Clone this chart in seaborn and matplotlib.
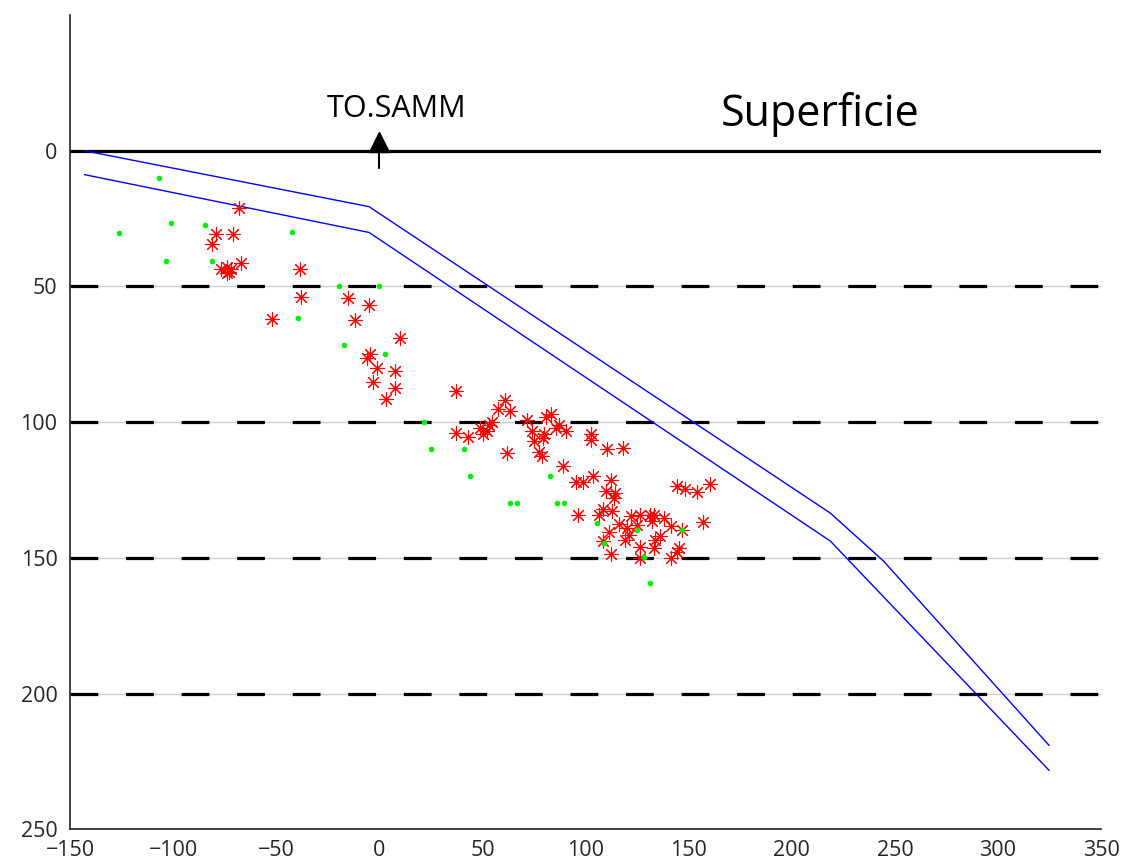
import matplotlib
matplotlib.use("Agg")
import matplotlib.pyplot as plt
import seaborn as sns
import pandas as pd

# ---- data ----
red_x = [-68, -79, -71, -81, -67, -77, -74, -73, -74, -72, -38.6, -38, -52, -15, -5, -12, 10,
         -4.5, -6, -1, 7.5, -3, 7.6, 3.4,
         37.3, 61, 57.7, 63.3, 54.8, 53.2, 49, 52, 50.4, 37.3, 43, 71.4, 74.2, 75, 79.5, 80,
         78.7, 77.5, 81, 83.4, 85.5, 87, 90.5, 62, 89, 102.4, 102.7, 110.3, 118.2, 95.6, 98.9,
         103.7, 112.4, 110, 114.5, 114, 144.4, 148, 153.8, 160.2, 96.4, 106.5, 108.4, 112.9,
         116.3, 121.8, 120.2, 121, 118.9, 111.3, 108.6, 126.6, 131.2, 133.1, 132.3, 137.9,
         141.2, 157, 145.2, 144.4, 141.2, 133.9, 136.3, 133.1, 126.3, 126.3, 112.1, 125, 147]
red_y = [21, 30.5, 30.6, 34.4, 41.3, 43.4, 42.8, 44.6, 45.2, 43.5, 43.5, 54, 62, 54.2, 56.9, 62.5, 68.9,
         75, 76.5, 80, 81, 85.3, 87.3, 91.5,
         88.5, 92, 95, 96, 99.8, 101.2, 102.2, 103.4, 104.4, 104, 105.5, 99.3, 103.4, 107, 106, 104.4,
         112.3, 111, 98, 97, 102, 101, 103.4, 111.4, 116, 104.4, 106.7, 109.7, 109.6, 122, 122,
         120, 121.2, 125.4, 126.1, 127.9, 123.6, 124.6, 125.9, 122.8, 134.2, 134.3, 132.1, 132.6,
         137.5, 134.7, 139, 141.4, 143.3, 140.4, 143.6, 134.3, 134.3, 134.1, 136.3, 135.3,
         138.4, 136.9, 146.3, 147.8, 150.2, 143.3, 142, 146.3, 146.1, 150.2, 148.5, 138, 139.7]

green_x = [-107, -101, -84.4, -126.3, -42.4, -103.6, -81.2, -39.4, -19.8, -0.4, -16.9, 2.6,
           21.7, 25, 41.2, 44.1, 82.9, 63.3, 66.7, 86, 89.3, 105.5, 108.9, 124.7, 147, 128.2, 131]
green_y = [10, 26.5, 27.2, 30.4, 30, 40.6, 40.6, 61.8, 50, 50, 71.6, 75,
           99.8, 109.8, 109.8, 119.9, 119.9, 129.8, 129.8, 129.8, 129.8, 137.1, 144.6, 139.6,
           139.7, 149.7, 159.4]

upper_x = [-143, -5, 218.7, 244.4, 324.8]
upper_y = [0, 20.6, 133.5, 151.1, 219.1]
lower_x = [-143, -5, 218.7, 324.8]
lower_y = [8.8, 30.1, 143.8, 228.3]

depth_levels = [50, 100, 150, 200]
x_ticks = [-150, -100, -50, 0, 50, 100, 150, 200, 250, 300, 350]
y_ticks = [0, 50, 100, 150, 200, 250]
station_label = "TO.SAMM"
station_x = 0
surface_label = "Superficie"

# ---- style ----
sns.set_style("white")
plt.rcParams['font.family'] = ['Open Sans', 'DejaVu Sans']
plt.rcParams['lines.scale_dashes'] = False

fig = plt.figure(figsize=(11.22, 8.63), dpi=100)
ax = fig.add_axes([0.0624, 0.039, 0.919, 0.9436])

ax.set_xlim(-150, 350)
ax.set_ylim(250, -50)

# grid-like light lines + black dashed depth lines
for d in depth_levels:
    ax.axhline(d, color='#cccccc', lw=1.0, zorder=1)
    ax.axhline(d, color='black', lw=2.3, linestyle=(0, (20, 20)), zorder=2)
ax.axhline(0, color='black', lw=2.3, zorder=2)

# blue lines
df_up = pd.DataFrame({'x': upper_x, 'y': upper_y})
df_lo = pd.DataFrame({'x': lower_x, 'y': lower_y})
sns.lineplot(data=df_up, x='x', y='y', sort=False, estimator=None, color='#0000ff', lw=1.0, ax=ax, zorder=3)
sns.lineplot(data=df_lo, x='x', y='y', sort=False, estimator=None, color='#0000ff', lw=1.0, ax=ax, zorder=3)

# red asterisks
df_red = pd.DataFrame({'x': red_x, 'y': red_y})
sns.scatterplot(data=df_red, x='x', y='y', marker=(8, 2, 0), s=100, color='#ff0000',
                linewidth=0.8, edgecolor='#ff0000', ax=ax, zorder=4)
# green dots
df_green = pd.DataFrame({'x': green_x, 'y': green_y})
sns.scatterplot(data=df_green, x='x', y='y', marker='o', s=16, color='#00ee00',
                linewidth=0, ax=ax, zorder=5)

# station marker
ax.plot([station_x, station_x], [-6, 6.5], color='black', lw=1.5, zorder=6)
ax.plot([station_x], [-3.2], marker='^', markersize=15, color='black', zorder=6, clip_on=False)
ax.text(station_x + 8.5, -15.5, station_label, fontsize=22, ha='center', va='center', color='black')
ax.text(213.8, -13.5, surface_label, fontsize=31, ha='center', va='center', color='black')

ax.set_xticks(x_ticks)
ax.set_yticks(y_ticks)
ax.set_xlabel('')
ax.set_ylabel('')
ax.tick_params(axis='both', direction='in', length=6, width=1, labelsize=15.5, color='black')
ax.tick_params(axis='x', pad=8)
ax.tick_params(axis='y', pad=9)
for lab in ax.get_xticklabels() + ax.get_yticklabels():
    lab.set_family(['Open Sans', 'DejaVu Sans'])

ax.spines['top'].set_visible(False)
ax.spines['right'].set_visible(False)
for s in ['left', 'bottom']:
    ax.spines[s].set_color('#222222')
    ax.spines[s].set_linewidth(1.2)

fig.savefig('out.png', dpi=100)
